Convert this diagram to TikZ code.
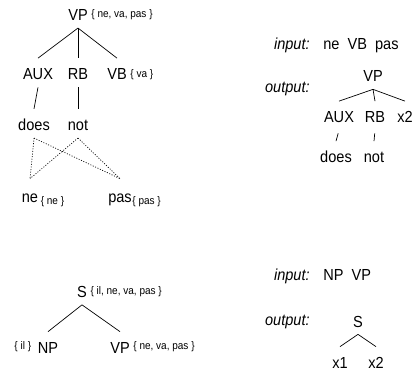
\documentclass[tikz,border=0pt]{standalone}
\usepackage{fontspec}
\setmainfont{Liberation Sans}[FakeStretch=0.91]
\usetikzlibrary{positioning}

\begin{document}
\begin{tikzpicture}[x=1pt, y=-1pt, line width=0.7pt,
        font=\fontsize{16}{19}\selectfont,
        cat/.style={inner sep=0pt, text height=21.5pt, text depth=7pt, anchor=base},
        leaf/.style={cat, text height=24pt},
        set/.style={inner sep=0pt, font=\fontsize{11}{13}\selectfont},
        lbl/.style={inner sep=0pt},
        stub/.style={shorten <=3pt},
        link/.style={dash pattern=on 1pt off 1.6pt}]
        \useasboundingbox (0,0) rectangle (417,371);

        % Draw the first tree
        \node[cat] (vp)   at (78,20.7)  {VP};
        \node[cat] (aux)  at (38,80)    {AUX};
        \node[cat] (rb)   at (78,80)    {RB};
        \node[cat] (vb)   at (117,80)   {VB};
        \node[cat] (does) at (34,130.7) {does};
        \node[cat] (not)  at (78,130.7) {not};
        \node[leaf] (ne)  at (30,203)   {ne};
        \node[leaf] (pas) at (120,203)  {pas};

        \node[set, base right=3pt of vp, yshift=3pt]   (vpset)  {\{ ne, va, pas \}};
        \node[set, base right=3pt of vb, yshift=2pt]   (vbset)  {\{ va \}};
        \node[set, base right=2pt of ne, yshift=-2pt]  (neset)  {\{ ne \}};
        \node[set, base right=0pt of pas, yshift=-2pt] (passet) {\{ pas \}};

        % Draw the second tree
        \node[cat] (s)   at (82,297.5) {S};
        \node[cat] (np)  at (48,353.5) {NP};
        \node[cat] (vp2) at (120,353.5) {VP};

        \node[set, base right=3pt of s, yshift=3pt]   (sset)   {\{ il, ne, va, pas \}};
        \node[set, base left=6pt of np, yshift=4pt]   (npset)  {\{ il \}};
        \node[set, base right=3pt of vp2, yshift=4pt] (vp2set) {\{ ne, va, pas \}};

        % Draw the first rule
        \node[lbl, anchor=base east] (in1)  at (310,50) {\itshape input:};
        \node[lbl, base right=13pt of in1]  (in1val) {ne~~VB~~pas};
        \node[lbl, anchor=base east] (out1) at (310,93) {\itshape output:};

        \node[cat] (rvp)   at (373,82)  {VP};
        \node[cat] (raux)  at (339,123) {AUX};
        \node[cat] (rrb)   at (375,123) {RB};
        \node[cat] (rx)    at (405,123) {x2};
        \node[cat] (rdoes) at (336,163) {does};
        \node[cat] (rnot)  at (374,163) {not};

        % Draw the second rule
        \node[lbl, anchor=base east] (in2)  at (310,280) {\itshape input:};
        \node[lbl, base right=13pt of in2]  (in2val) {NP~~VP};
        \node[lbl, anchor=base east] (out2) at (310,325) {\itshape output:};

        \node[cat] (rs)  at (358,327)   {S};
        \node[cat] (rx1) at (340,368.5) {x1};
        \node[cat] (rx2) at (376,368.5) {x2};

        % Connect the nodes
        \draw
            (vp.south) edge (aux.north)
            (vp.south) edge (rb.north)
            (vp.south) edge (vb.north)
            (aux.south) edge (does.north)
            (rb.south) edge (not.north)

            (s.south) edge (np.north)
            (s.south) edge (vp2.north)

            (rvp.south) edge (raux.north)
            (rvp.south) edge (rrb.north)
            (rvp.south) edge (rx.north)
            (raux.south) edge[stub] (rdoes.north)
            (rrb.south) edge[stub] (rnot.north)

            (rs.south) edge (rx1.north)
            (rs.south) edge (rx2.north);

        % Word alignment
        \draw[link]
            (does.south) edge (ne.north)
            (does.south) edge (pas.north)
            (not.south) edge (ne.north)
            (not.south) edge (pas.north);
\end{tikzpicture}
\end{document}
